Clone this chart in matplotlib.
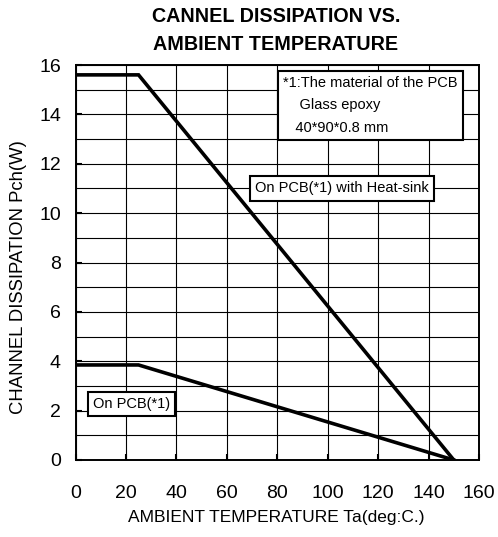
import matplotlib
matplotlib.use("Agg")
import matplotlib.pyplot as plt
from matplotlib.ticker import MultipleLocator

plt.rcParams['font.family'] = ['Liberation Sans', 'DejaVu Sans']

# Derating curves: ambient temperature (deg C) vs channel dissipation (W)
temp_heatsink = [0, 25, 150]
pch_heatsink = [15.6, 15.6, 0]
temp_pcb = [0, 25, 150]
pch_pcb = [3.85, 3.85, 0]

x_ticks = [0, 20, 40, 60, 80, 100, 120, 140, 160]
y_ticks = [0, 2, 4, 6, 8, 10, 12, 14, 16]

W, H = 498, 537
fig = plt.figure(figsize=(W / 100, H / 100), dpi=100)
ax = fig.add_axes([75.5 / W, 1 - 460 / H, (479 - 75.5) / W, (460 - 65) / H])

ax.set_xlim(0, 160)
ax.set_ylim(0, 16)
ax.set_xticks(x_ticks)
ax.set_yticks(y_ticks)
ax.yaxis.set_minor_locator(MultipleLocator(1))
ax.grid(which='major', color='black', linewidth=0.8)
ax.grid(which='minor', axis='y', color='black', linewidth=0.8)
ax.tick_params(axis='both', which='major', direction='in', length=4, width=1.5)
ax.tick_params(axis='y', labelsize=14, pad=10.5)
ax.tick_params(axis='x', labelsize=14, pad=18)
ax.tick_params(axis='y', which='minor', length=0)
for s in ax.spines.values():
    s.set_linewidth(1.4)

ax.plot(temp_heatsink, pch_heatsink, color='black', linewidth=2.6,
        solid_joinstyle='miter', zorder=3)
ax.plot(temp_pcb, pch_pcb, color='black', linewidth=2.6,
        solid_joinstyle='miter', zorder=3)

ax.set_xlabel('AMBIENT TEMPERATURE Ta(deg:C.)', fontsize=12.5, va='center')
ax.xaxis.set_label_coords(0.497, -0.146)
ax.set_ylabel('CHANNEL DISSIPATION Pch(W)', fontsize=13.3, va='center')
ax.yaxis.set_label_coords(-0.1425, 0.462)
fig.suptitle('CANNEL DISSIPATION VS.\nAMBIENT TEMPERATURE', fontsize=14.2,
             fontweight='bold', x=276 / W, y=1 - 30.5 / H, va='center',
             linespacing=1.65)

box = dict(boxstyle='square,pad=0.35', facecolor='white', edgecolor='black',
           linewidth=1.5)
ax.text(82.3, 15.55, '*1:The material of the PCB\n    Glass epoxy\n   40*90*0.8 mm',
        fontsize=10.5, va='top', ha='left', bbox=box, linespacing=1.75, zorder=4)
ax.text(71.2, 11.0, 'On PCB(*1) with Heat-sink', fontsize=10.5, va='center',
        ha='left', bbox=box, zorder=4)
ax.text(6.9, 2.27, 'On PCB(*1)', fontsize=10.5, va='center', ha='left',
        bbox=box, zorder=4)

fig.savefig('out.png', dpi=100)
